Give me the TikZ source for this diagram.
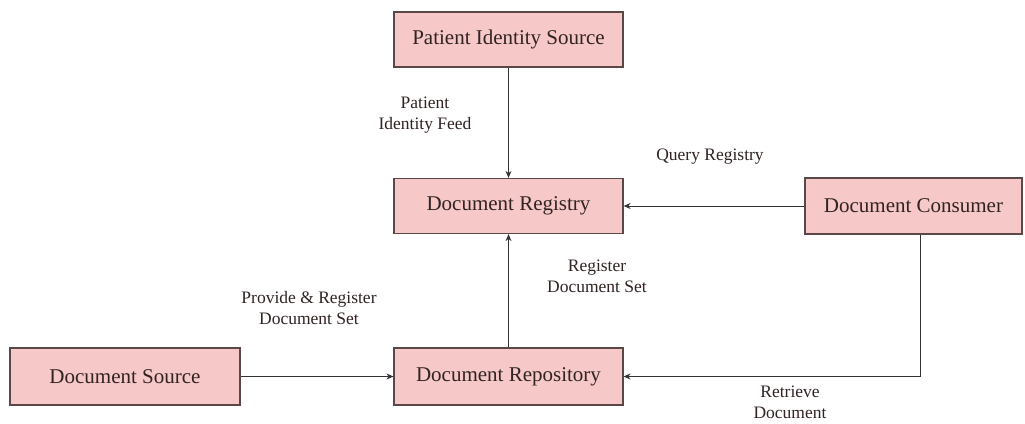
\documentclass[tikz,border=0pt]{standalone}
\usepackage{fontspec}
\setmainfont{Liberation Serif}
\usetikzlibrary{arrows.meta}
\definecolor{boxfill}{RGB}{246,200,200}
\definecolor{boxline}{RGB}{90,72,72}
\definecolor{txt}{RGB}{50,35,35}
\begin{document}
\begin{tikzpicture}[x=1pt,y=-1pt,
  actor/.style={draw=boxline,line width=1.2pt,fill=boxfill,text=txt,inner sep=0pt,
    font=\fontsize{21}{24}\selectfont},
  lbl/.style={text=txt,align=center,font=\fontsize{17.5}{21}\selectfont,inner sep=0pt},
  conn/.style={draw=black!80,line width=1pt,-{Stealth[length=7pt,width=6pt]}}]
\useasboundingbox (0,0) rectangle (1025,423);
\node[actor,minimum width=229pt,minimum height=55pt] (pis) at (508.5,39.5) {Patient Identity Source};
\node[actor,minimum width=229pt,minimum height=55pt] (reg) at (508.5,206) {Document Registry};
\node[actor,minimum width=217pt,minimum height=56pt] (con) at (913.5,206) {Document Consumer};
\node[actor,minimum width=230pt,minimum height=57pt] (src) at (125,376.5) {Document Source};
\node[actor,minimum width=229pt,minimum height=57pt] (rep) at (508.5,376.5) {Document Repository};
\coordinate (corner) at (920,376.5);
\draw[conn] (pis) -- (reg);
\draw[conn] (rep) -- (reg);
\draw[conn] (con) -- (reg);
\draw[conn] (src) -- (rep);
\draw[conn] (con.south -| corner) -- (corner) -- (rep.east);
\node[lbl] (l1) at (425,115) {Patient\\Identity Feed};
\node[lbl] (l2) at (710,157) {Query Registry};
\node[lbl] (l3) at (597,276) {Register\\Document Set};
\node[lbl] (l4) at (309,308) {Provide \& Register\\Document Set};
\node[lbl] (l5) at (790,402) {Retrieve\\Document};
\end{tikzpicture}
\end{document}
